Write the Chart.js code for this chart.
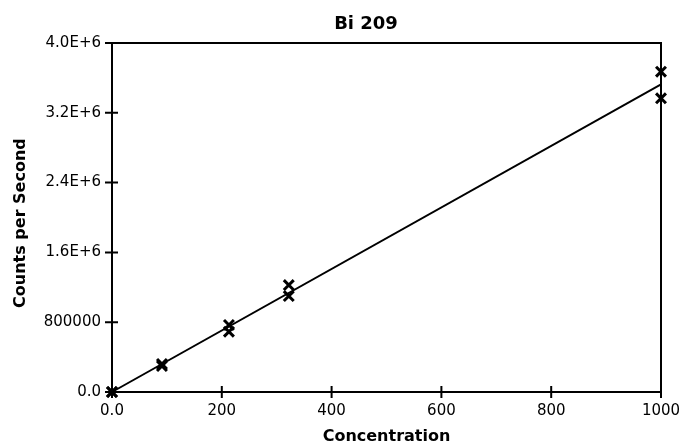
<!DOCTYPE html>
<html>
<head>
<meta charset="utf-8">
<script src="https://cdn.jsdelivr.net/npm/chart.js@4.4.0/dist/chart.umd.min.js"></script>
<style>
  html, body { margin: 0; padding: 0; background: #fff; }
  #wrap { width: 680px; height: 446px; }
</style>
</head>
<body>
<div id="wrap"><canvas id="biChart" width="680" height="446"></canvas></div>
<script>
// measured standards (concentration vs counts per second)
const concentration = [0, 0, 91, 91, 213, 213, 322, 322, 1000, 1000];
const counts = [0, 0, 321000, 298000, 768000, 691000, 1226000, 1100000, 3671000, 3366000];

// calibration line end points
const fitX = [0, 1000];
const fitY = [0, 3527000];

const xTickLabels = ['0.0', '200', '400', '600', '800', '1000'];
const yTickLabels = ['0.0', '800000', '1.6E+6', '2.4E+6', '3.2E+6', '4.0E+6'];

Chart.defaults.font.family = '"DejaVu Sans", Arial, sans-serif';
Chart.defaults.color = '#000';

// frame, crossing tick marks and the title
const framePlugin = {
    id: 'frame',
    beforeDatasetsDraw(chart) {
        const ctx = chart.ctx;
        const area = chart.chartArea;
        const xs = chart.scales.x;
        const ys = chart.scales.y;
        ctx.save();
        ctx.strokeStyle = '#000';
        ctx.lineWidth = 2;
        ctx.strokeRect(area.left, area.top, area.right - area.left, area.bottom - area.top);
        ctx.beginPath();
        xs.ticks.forEach(t => {
            const px = xs.getPixelForValue(t.value);
            ctx.moveTo(px, area.bottom - 6);
            ctx.lineTo(px, area.bottom + 6);
        });
        ys.ticks.forEach(t => {
            const py = ys.getPixelForValue(t.value);
            ctx.moveTo(area.left - 7, py);
            ctx.lineTo(area.left + 6, py);
        });
        ctx.stroke();

        ctx.font = 'bold 18px "DejaVu Sans", Arial, sans-serif';
        ctx.fillStyle = '#000';
        ctx.textAlign = 'center';
        ctx.textBaseline = 'middle';
        ctx.fillText('Bi 209', 366, 24);
        ctx.restore();
    }
};

const ctx = document.getElementById('biChart').getContext('2d');
new Chart(ctx, {
    type: 'scatter',
    data: {
        datasets: [
            {
                type: 'line',
                data: fitX.map((x, i) => ({ x: x, y: fitY[i] })),
                borderColor: '#000',
                borderWidth: 2,
                pointRadius: 0,
                fill: false,
                clip: false
            },
            {
                data: concentration.map((x, i) => ({ x: x, y: counts[i] })),
                pointStyle: 'crossRot',
                pointRadius: 7,
                pointBorderWidth: 3,
                borderColor: '#000',
                backgroundColor: '#000',
                clip: false
            }
        ]
    },
    plugins: [framePlugin],
    options: {
        responsive: false,
        animation: false,
        layout: { padding: { top: 43, right: 19, left: 0, bottom: 0 } },
        plugins: {
            legend: { display: false },
            tooltip: { enabled: false }
        },
        scales: {
            x: {
                type: 'linear',
                min: 0,
                max: 1000,
                grid: { display: false, drawTicks: false },
                border: { display: false },
                ticks: {
                    stepSize: 200,
                    padding: 10,
                    maxRotation: 0,
                    font: { size: 15 },
                    callback: (v, i) => xTickLabels[i]
                },
                title: {
                    display: true,
                    text: 'Concentration',
                    font: { size: 16, weight: 'bold' },
                    padding: { top: 0, bottom: 0 }
                },
                afterFit: scale => {
                    scale.height = 54;
                    scale.paddingLeft = 0;
                    scale.paddingRight = 0;
                }
            },
            y: {
                type: 'linear',
                min: 0,
                max: 4000000,
                grid: { display: false, drawTicks: false },
                border: { display: false },
                ticks: {
                    stepSize: 800000,
                    padding: 11,
                    font: { size: 15 },
                    callback: (v, i) => yTickLabels[i]
                },
                title: {
                    display: true,
                    text: 'Counts per Second  ',
                    font: { size: 16, weight: 'bold' },
                    padding: { top: 11, bottom: 0 }
                },
                afterFit: scale => {
                    scale.width = 112;
                    scale.paddingTop = 0;
                    scale.paddingBottom = 0;
                }
            }
        }
    }
});
</script>
</body>
</html>
